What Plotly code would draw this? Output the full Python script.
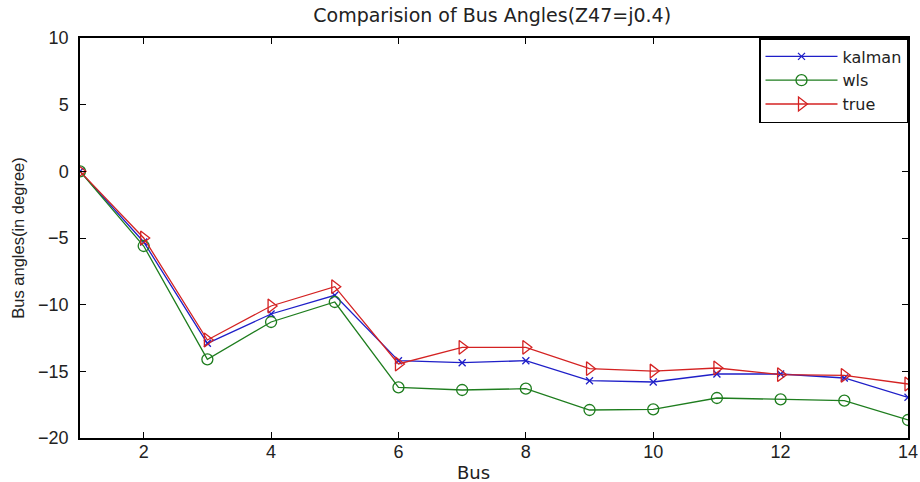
import plotly.graph_objects as go

buses = list(range(1, 15))
kalman = [0, -5.3, -12.9, -10.7, -9.3, -14.2, -14.35, -14.2, -15.7, -15.8, -15.2, -15.2, -15.5, -16.95]
wls = [0, -5.6, -14.1, -11.3, -9.8, -16.2, -16.4, -16.3, -17.9, -17.85, -17.0, -17.1, -17.2, -18.65]
true_vals = [0, -5.0, -12.65, -10.1, -8.65, -14.45, -13.2, -13.2, -14.8, -14.98, -14.75, -15.25, -15.3, -15.95]

x_ticks = [2, 4, 6, 8, 10, 12, 14]
y_ticks = [-20, -15, -10, -5, 0, 5, 10]

ARIAL = "Liberation Sans, Arial"
WIDE = "DejaVu Sans"

fig = go.Figure()
fig.add_trace(go.Scatter(x=buses, y=kalman, name="kalman", mode="lines+markers",
                         line=dict(color="#1f1fc8", width=1.3),
                         marker=dict(symbol="x-thin-open", size=7, line=dict(color="#1f1fc8", width=1.3))))
fig.add_trace(go.Scatter(x=buses, y=wls, name="wls", mode="lines+markers",
                         line=dict(color="#1e7d1e", width=1.3),
                         marker=dict(symbol="circle-open", size=11, color="#1e7d1e", line=dict(width=1.3))))
fig.add_trace(go.Scatter(x=buses, y=true_vals, name="true", mode="lines+markers",
                         line=dict(color="#d42222", width=1.3),
                         marker=dict(symbol="triangle-right-open", size=12, color="#d42222", line=dict(width=1.3))))

axis_common = dict(showgrid=False, zeroline=False, showline=True, linecolor="black", linewidth=1.5,
                   mirror="ticks", ticks="inside", ticklen=6, tickcolor="black", automargin=False,
                   tickfont=dict(family=ARIAL, size=18, color="#222"))

fig.update_layout(
    width=920, height=482,
    margin=dict(l=80, r=12, t=38, b=44),
    paper_bgcolor="white", plot_bgcolor="white",
    title=dict(text="Comparision of Bus Angles(Z47=j0.4)", x=0.535, xanchor="center",
               y=1 - 15 / 482, yanchor="middle",
               font=dict(family=WIDE, size=19, color="#222")),
    xaxis=dict(range=[1, 14], tickvals=x_ticks, ticklabelstandoff=-3, **axis_common),
    yaxis=dict(range=[-20, 10], tickvals=y_ticks, ticklabelstandoff=6,
               title=dict(text="Bus angles(in degree)", standoff=9, font=dict(family=ARIAL, size=16.5, color="#222")),
               **axis_common),
    legend=dict(x=1, xanchor="right", y=1, yanchor="top", bgcolor="white", bordercolor="black", borderwidth=1.5,
                font=dict(family=WIDE, size=16, color="#222"), tracegroupgap=0,
                itemwidth=72),
    showlegend=True,
)

fig.add_annotation(text="Bus", xref="paper", yref="paper", x=(473 - 80) / 828, y=-(472 - 438) / 400,
                   xanchor="center", yanchor="middle", showarrow=False,
                   font=dict(family=WIDE, size=18, color="#222"))

fig.write_html("out.html", config={"displayModeBar": False},
               post_script="document.body.style.margin='0';document.body.style.padding='0';")
